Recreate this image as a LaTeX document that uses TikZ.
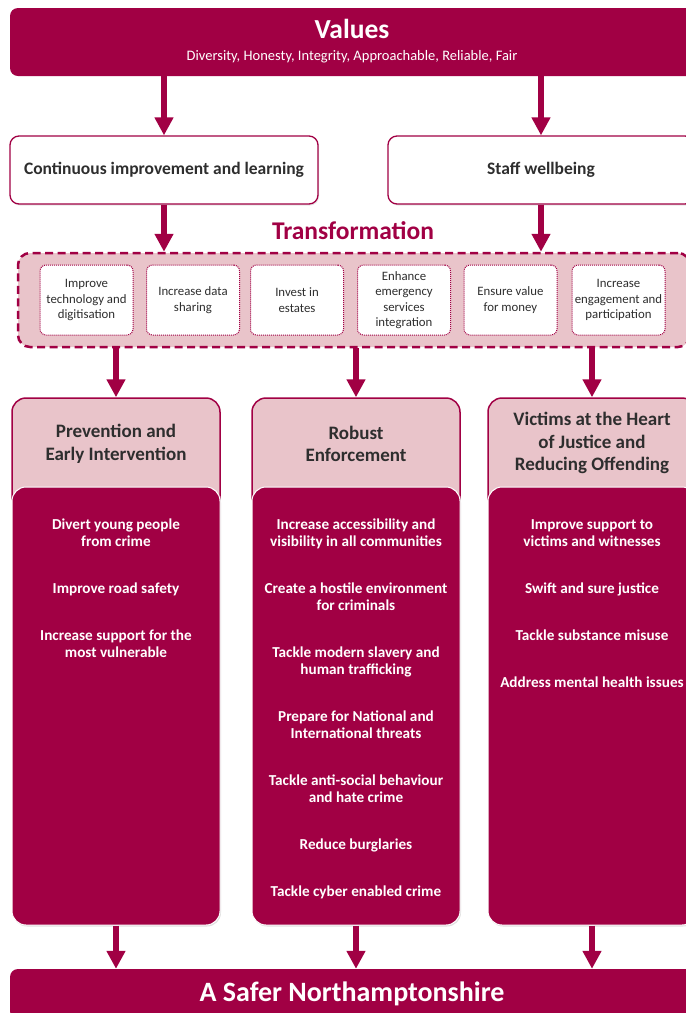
\documentclass[tikz,border=0pt]{standalone}
\usepackage{fontspec}
\setmainfont{Carlito}
\usetikzlibrary{arrows.meta,shadows}

\definecolor{plum}{HTML}{A10044}
\definecolor{blush}{HTML}{E9C4CA}
\definecolor{inkgray}{HTML}{2E2E2E}

\tikzset{
  banner/.style={fill=plum, rounded corners=8pt, text=white, align=center,
    minimum width=684pt, inner sep=0pt},
  themebox/.style={draw=plum, line width=1.3pt, fill=white, rounded corners=9pt,
    minimum height=68pt, text=inkgray, font=\fontsize{17.5}{21}\selectfont\bfseries,
    drop shadow={opacity=0.2, shadow xshift=1pt, shadow yshift=-1.5pt}},
  transbox/.style={draw=plum, dash pattern=on 8pt off 4.5pt, line width=2.5pt,
    fill=blush, rounded corners=12pt, minimum width=672pt, minimum height=94pt},
  aimbox/.style={draw=plum, densely dotted, line width=1pt, fill=white,
    rounded corners=6pt, minimum width=93pt, minimum height=70pt, inner sep=0pt,
    align=center, text=inkgray, font=\fontsize{12.8}{15.5}\selectfont},
  pillarhead/.style={draw=plum, line width=1.5pt, fill=blush, rounded corners=14pt,
    minimum width=208pt, minimum height=112pt},
  pillarbody/.style={fill=plum, draw=white, line width=1pt, rounded corners=14pt,
    minimum width=208pt, minimum height=438pt,
    drop shadow={opacity=0.25, shadow xshift=1pt, shadow yshift=-1.5pt}},
  pillartitle/.style={align=center, text=inkgray, inner sep=0pt,
    font=\fontsize{19}{22.5}\selectfont\bfseries},
  pillaritems/.style={align=center, text=white, inner sep=0pt, anchor=north,
    font=\fontsize{15.2}{17}\selectfont\bfseries},
  bigarrow/.style={draw=plum, line width=6pt, -{Triangle[width=18pt,length=18pt]}}
}

\begin{document}
\begin{tikzpicture}[x=1pt,y=-1pt]
  \useasboundingbox (0,0) rectangle (686,1013);
  \clip (0,0) rectangle (686,1013);

  % values and the two themes
  \node[banner, minimum height=68pt] (values) at (352,42) {};
  \node[text=white, font=\fontsize{27.5}{30}\selectfont\bfseries] (valuestitle) at (352,29) {Values};
  \node[text=white, font=\fontsize{14.5}{17}\selectfont] (valueslist) at (352,57)
    {Diversity, Honesty, Integrity, Approachable, Reliable, Fair};
  \node[themebox, minimum width=308pt] (learning) at (164,170) {Continuous improvement and learning};
  \node[themebox, minimum width=306pt] (wellbeing) at (541,170) {Staff wellbeing};
  \draw[bigarrow] (values.south -| learning.north) -- (learning.north);
  \draw[bigarrow] (values.south -| wellbeing.north) -- (wellbeing.north);

  % transformation
  \node[text=plum, font=\fontsize{25.5}{28}\selectfont\bfseries] (translabel) at (353,231) {Transformation};
  \node[transbox] (trans) at (354,300) {};
  \draw[bigarrow] (learning.south) -- (learning.south |- trans.north);
  \draw[bigarrow] (wellbeing.south) -- (wellbeing.south |- trans.north);

  \node[aimbox] (aim1) at (86.5,300) {Improve\\technology and\\digitisation};
  \node[aimbox] (aim2) at (193,300) {Increase data\\sharing};
  \node[aimbox] (aim3) at (297,300) {Invest in\\estates};
  \node[aimbox] (aim4) at (404,300) {Enhance\\emergency\\services\\integration};
  \node[aimbox] (aim5) at (510.5,300) {Ensure value\\for money};
  \node[aimbox] (aim6) at (618.5,300) {Increase\\engagement and\\participation};

  % the three pillars
  \node[pillarhead] (head1) at (116,454) {};
  \node[pillarhead] (head2) at (356,454) {};
  \node[pillarhead] (head3) at (592,454) {};
  \node[pillarbody] (body1) at (116,706) {};
  \node[pillarbody] (body2) at (356,706) {};
  \node[pillarbody] (body3) at (592,706) {};
  \draw[bigarrow] (trans.south -| head1.north) -- (head1.north);
  \draw[bigarrow] (trans.south -| head2.north) -- (head2.north);
  \draw[bigarrow] (trans.south -| head3.north) -- (head3.north);

  \node[pillartitle] (title1) at (116,444) {Prevention and\\Early Intervention};
  \node[pillartitle] (title2) at (356,444) {Robust\\Enforcement};
  \node[pillartitle] (title3) at (592,443) {Victims at the Heart\\of Justice and\\Reducing Offending};

  \node[pillaritems] (items1) at (116,519)
    {Divert young people\\from crime\\[30pt]
     Improve road safety\\[30pt]
     Increase support for the\\most vulnerable};
  \node[pillaritems] (items2) at (356,519)
    {Increase accessibility and\\visibility in all communities\\[30pt]
     Create a hostile environment\\for criminals\\[30pt]
     Tackle modern slavery and\\human trafficking\\[30pt]
     Prepare for National and\\International threats\\[30pt]
     Tackle anti-social behaviour\\and hate crime\\[30pt]
     Reduce burglaries\\[30pt]
     Tackle cyber enabled crime};
  \node[pillaritems] (items3) at (592,519)
    {Improve support to\\victims and witnesses\\[30pt]
     Swift and sure justice\\[30pt]
     Tackle substance misuse\\[30pt]
     Address mental health issues};

  % outcome
  \node[banner, minimum height=50pt, font=\fontsize{28}{32}\selectfont\bfseries] (safer) at (352,994)
    {A Safer Northamptonshire};
  \draw[bigarrow] (body1.south) -- (body1.south |- safer.north);
  \draw[bigarrow] (body2.south) -- (body2.south |- safer.north);
  \draw[bigarrow] (body3.south) -- (body3.south |- safer.north);
\end{tikzpicture}
\end{document}
